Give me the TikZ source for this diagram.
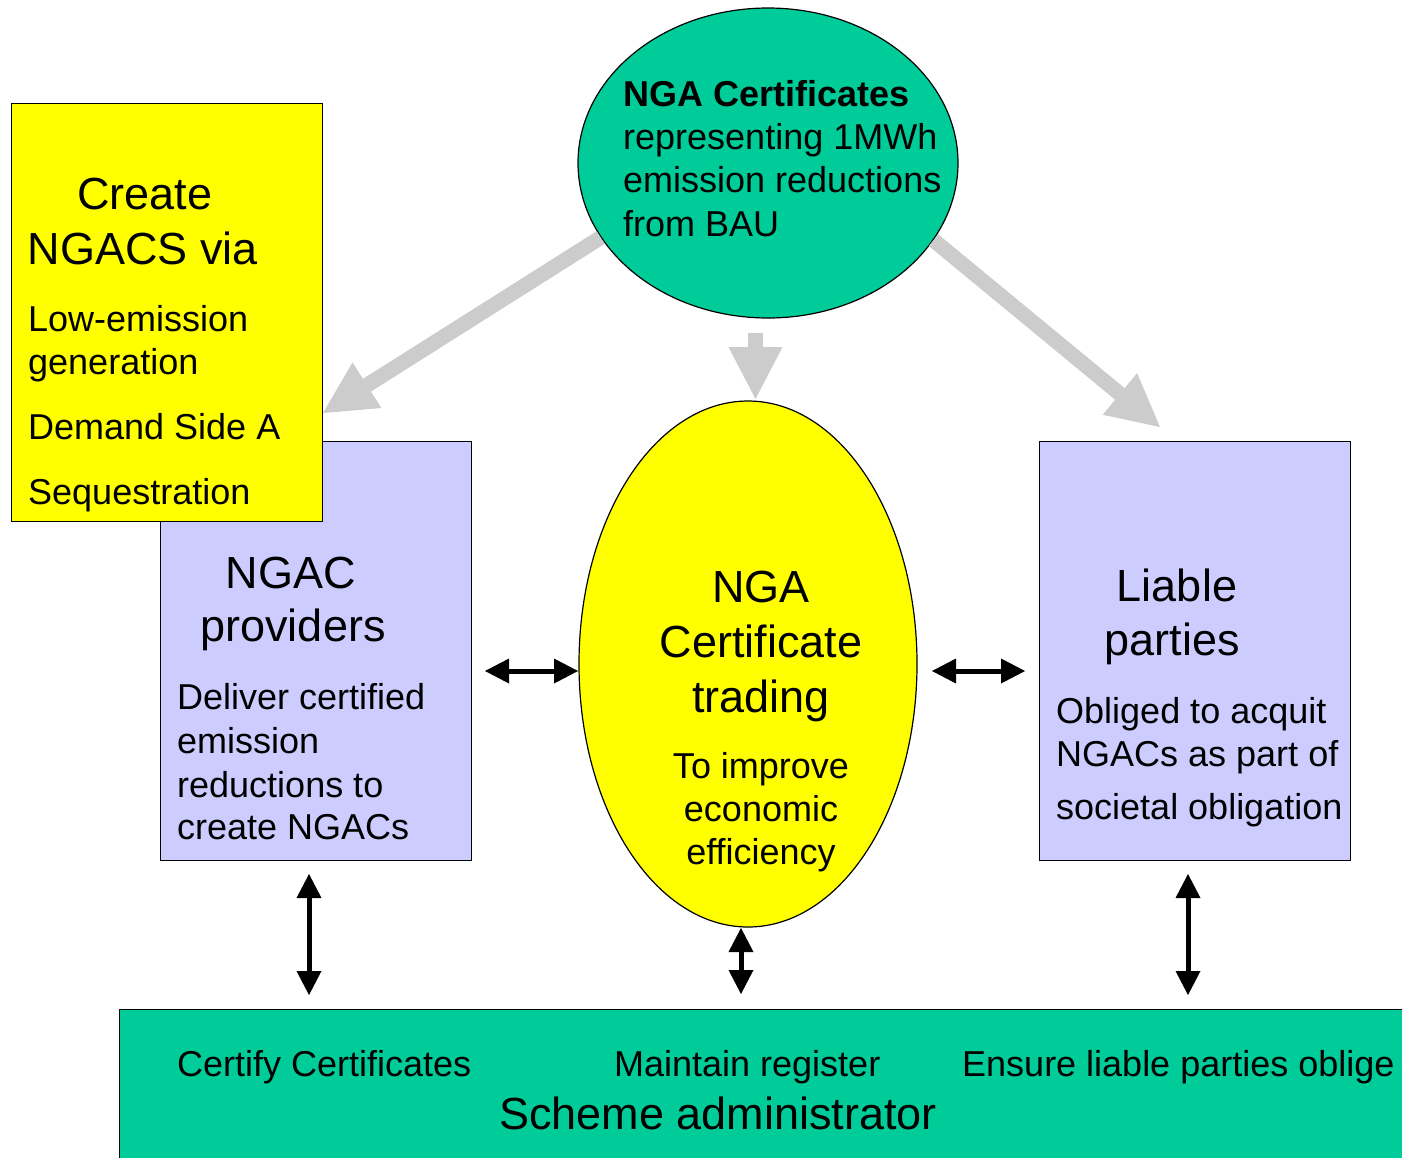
\documentclass[tikz,border=0pt]{standalone}
\usepackage{fontspec}
\setmainfont{Liberation Sans}
\usetikzlibrary{shapes.geometric,arrows.meta}
\definecolor{tealfill}{HTML}{00CC99}
\definecolor{lilac}{HTML}{CCCCFF}
\definecolor{yell}{HTML}{FFFF00}
\definecolor{arrowgray}{HTML}{CCCCCC}
\begin{document}
\begin{tikzpicture}[x=1pt,y=-1pt,
  big/.style={font=\fontsize{45}{54}\selectfont, inner sep=0pt},
  small/.style={font=\fontsize{36}{43}\selectfont, inner sep=0pt},
  box/.style={draw=black, line width=1.2pt, anchor=north west, inner sep=0pt},
  oval/.style={ellipse, draw=black, line width=1.2pt, inner sep=0pt},
  grayarrow/.style={draw=arrowgray, line width=15pt, -{Triangle[width=54pt,length=52pt,line width=0pt]}},
  blackarrow/.style={draw=black, line width=5pt, {Triangle[width=25pt,length=24pt,line width=0pt]}-{Triangle[width=25pt,length=24pt,line width=0pt]}}]
\useasboundingbox (0,0) rectangle (1402,1157);
\clip (0,0) rectangle (1402,1157);

% shapes
\node[box, fill=lilac, minimum width=311pt, minimum height=419pt] (prov) at (160,441) {};
\node[box, fill=yell, minimum width=311pt, minimum height=418pt] (create) at (11,103) {};
\node[box, fill=lilac, minimum width=311pt, minimum height=419pt] (liable) at (1039,441) {};
\node[box, fill=tealfill, minimum width=1300pt, minimum height=170pt] (admin) at (119,1009) {};
\node[oval, fill=tealfill, minimum width=380pt, minimum height=310pt] (top) at (768,163) {};
\node[oval, fill=yell, minimum width=338pt, minimum height=526pt] (trade) at (748,664) {};

% gray arrows
\coordinate (g1s) at (top.204.5);
\coordinate (g1e) at (323,413);
\coordinate (g2s) at (755.5,333);
\coordinate (g2e) at (755.5,399);
\coordinate (g3s) at (top.335.5);
\coordinate (g3e) at (1160,427);
\draw[grayarrow] (g1s) -- (g1e);
\draw[grayarrow] (g2s) -- (g2e);
\draw[grayarrow] (g3s) -- (g3e);

% black double arrows
\coordinate (h1a) at (485,671);
\coordinate (h1b) at (578,671);
\coordinate (h2a) at (932,671);
\coordinate (h2b) at (1025,671);
\coordinate (v1a) at (309,874);
\coordinate (v1b) at (309,995);
\coordinate (v2a) at (741,928);
\coordinate (v2b) at (741,994);
\coordinate (v3a) at (1188,874);
\coordinate (v3b) at (1188,995);
\draw[blackarrow] (h1a) -- (h1b);
\draw[blackarrow] (h2a) -- (h2b);
\draw[blackarrow] (v1a) -- (v1b);
\draw[blackarrow] (v2a) -- (v2b);
\draw[blackarrow] (v3a) -- (v3b);

% yellow box text
\node[big, anchor=base] (c1) at (145,209) {Create};
\node[big, anchor=base] (c2) at (143,264) {NGACS via};
\node[small, anchor=base west] (c3) at (28,331) {Low-emission};
\node[small, anchor=base west] (c4) at (28,374) {generation};
\node[small, anchor=base west] (c5) at (28,439) {Demand Side A};
\node[small, anchor=base west] (c6) at (28,504) {Sequestration};

% providers text
\node[big, anchor=base] (p1) at (291,588) {NGAC};
\node[big, anchor=base] (p2) at (293,641) {providers};
\node[small, anchor=base west] (p3) at (177,709) {Deliver certified};
\node[small, anchor=base west] (p4) at (177,753) {emission};
\node[small, anchor=base west] (p5) at (177,797) {reductions to};
\node[small, anchor=base west] (p6) at (177,839) {create NGACs};

% top ellipse text
\node[small, anchor=base west, font=\fontsize{36}{43}\selectfont\bfseries] (n1) at (623,106) {NGA Certificates};
\node[small, anchor=base west] (n2) at (623,149) {representing 1MWh};
\node[small, anchor=base west] (n3) at (623,192) {emission reductions};
\node[small, anchor=base west] (n4) at (623,236) {from BAU};

% trading text
\node[big, anchor=base] (t1) at (761,602) {NGA};
\node[big, anchor=base] (t2) at (761,657) {Certificate};
\node[big, anchor=base] (t3) at (761,712) {trading};
\node[small, anchor=base] (t4) at (761,778) {To improve};
\node[small, anchor=base] (t5) at (761,821) {economic};
\node[small, anchor=base] (t6) at (761,864) {efficiency};

% liable text
\node[big, anchor=base] (l1) at (1177,601) {Liable};
\node[big, anchor=base] (l2) at (1172,655) {parties};
\node[small, anchor=base west] (l3) at (1056,723) {Obliged to acquit};
\node[small, anchor=base west] (l4) at (1056,766) {NGACs as part of};
\node[small, anchor=base west] (l5) at (1056,819) {societal obligation};

% admin text
\node[small, anchor=base west] (a1) at (177,1076) {Certify Certificates};
\node[small, anchor=base west] (a2) at (614,1076) {Maintain register};
\node[small, anchor=base west] (a3) at (962,1076) {Ensure liable parties oblige};
\node[big, anchor=base] (a4) at (718,1129) {Scheme administrator};
\end{tikzpicture}
\end{document}
